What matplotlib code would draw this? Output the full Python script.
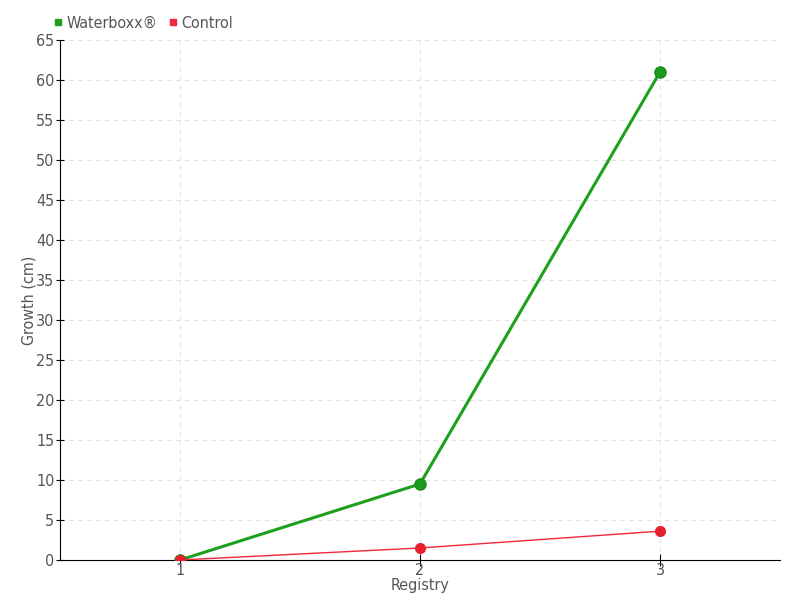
import matplotlib
matplotlib.use("Agg")
import matplotlib.pyplot as plt
from matplotlib.lines import Line2D

registry = [1, 2, 3]
waterboxx = [0, 9.5, 61]
control = [0, 1.5, 3.6]
yticks = list(range(0, 70, 5))

plt.rcParams['font.family'] = ['DejaVu Sans']
plt.rcParams['font.stretch'] = 'condensed'
txt = '#555555'

fig = plt.figure(figsize=(8, 6), dpi=100)
ax = fig.add_axes([0.075, 0.0667, 0.9, 0.8666])

ax.plot(registry, waterboxx, color='#1ea01e', lw=2.2, marker='o', ms=8,
        markerfacecolor='#1e9a1e', markeredgecolor='#178a17', zorder=3)
ax.plot(registry, control, color='#f0283c', lw=1, marker='o', ms=7,
        markerfacecolor='#e8202e', markeredgecolor='#e8202e', zorder=4)

ax.set_xlim(0.5, 3.5)
ax.set_ylim(0, 65)
ax.set_xticks(registry)
ax.set_xticklabels([str(r) for r in registry])
ax.set_yticks(yticks)
ax.grid(True, color='#e2e2e2', linestyle=(0, (4, 4)), lw=0.8)
ax.set_axisbelow(True)
for s in ['top', 'right']:
    ax.spines[s].set_visible(False)
ax.spines['left'].set_color('black')
ax.spines['bottom'].set_color('black')
ax.tick_params(axis='y', direction='inout', length=6, colors='black',
               labelcolor=txt, labelsize=11.5, pad=1)
ax.tick_params(axis='x', direction='inout', length=8, colors='black',
               labelcolor=txt, labelsize=11.5, pad=-2)
ax.set_xlabel('Registry', color=txt, fontsize=11.5, labelpad=0)
ax.set_ylabel('Growth (cm)', color=txt, fontsize=11.5, labelpad=0)

handles = [Line2D([], [], marker='s', color='#1ea01e', ls='none', ms=5),
           Line2D([], [], marker='s', color='#f0283c', ls='none', ms=5)]
fig.legend(handles, ['Waterboxx®', 'Control'], loc='upper left',
           bbox_to_anchor=(0.047, 0.998), ncol=2, frameon=False,
           handletextpad=0.1, columnspacing=0.6, fontsize=11.5,
           labelcolor=txt, handlelength=0.8)

fig.savefig('out.png', dpi=100)
